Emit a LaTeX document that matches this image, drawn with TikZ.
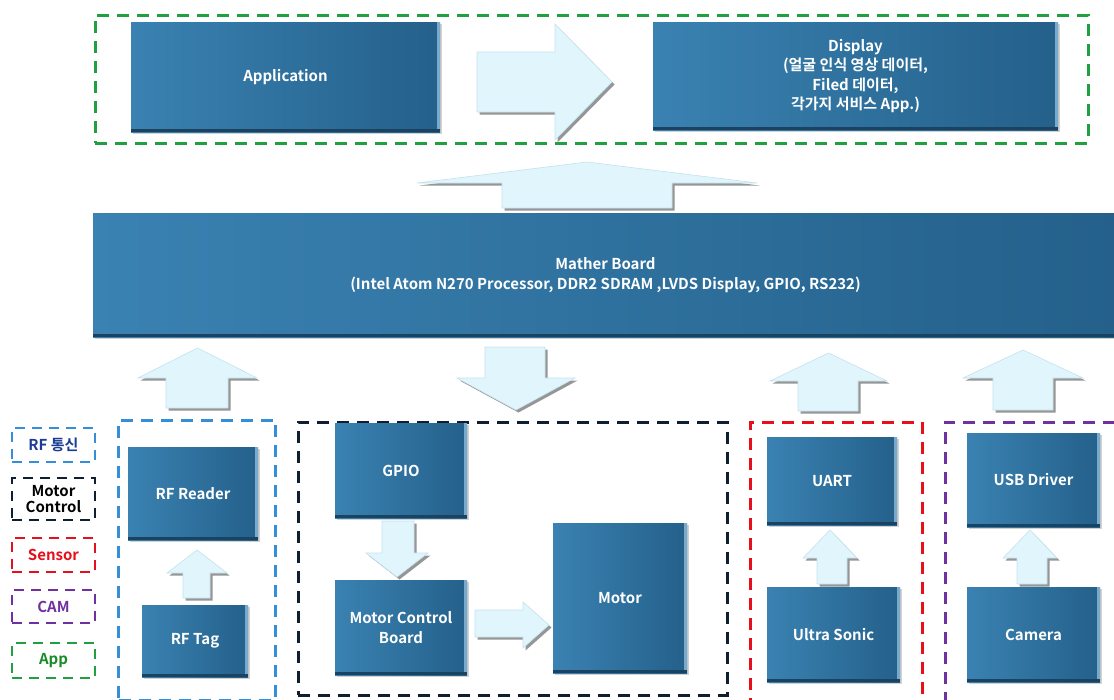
\documentclass[tikz,border=0pt]{standalone}
\usepackage{fontspec}
\setmainfont{Noto Sans CJK KR}[BoldFont={Noto Sans CJK KR Bold}]
\usetikzlibrary{shadows}
\definecolor{boxL}{RGB}{58,130,178}
\definecolor{boxR}{RGB}{36,96,138}
\definecolor{bevel}{RGB}{120,170,205}
\definecolor{arrF}{RGB}{224,246,252}
\definecolor{arrE}{RGB}{196,226,238}
\definecolor{arrS}{RGB}{150,150,150}
\definecolor{cGreen}{RGB}{32,160,64}
\definecolor{cNavy}{RGB}{16,30,50}
\definecolor{cRed}{RGB}{230,16,28}
\definecolor{cPurple}{RGB}{112,48,160}
\definecolor{cBlue}{RGB}{52,142,216}
\definecolor{tNavy}{RGB}{28,60,148}
\definecolor{tGreen}{RGB}{26,138,42}
\tikzset{
  blk/.style={left color=boxL, right color=boxR, text=white, align=center,
    inner sep=0pt, font=\fontsize{15}{19.5}\selectfont\bfseries,
    drop shadow={opacity=0.35, shadow xshift=2pt, shadow yshift=-2pt},
    path picture={
      \fill[bevel] (path picture bounding box.north east) rectangle ([xshift=-3pt]path picture bounding box.south east);
      \fill[boxR!70!black] (path picture bounding box.south west) rectangle ([yshift=3pt]path picture bounding box.south east);
    }},
  grp/.style={draw, line width=3pt, dash pattern=on 12pt off 8pt, inner sep=0pt},
  leg/.style={draw, line width=2.5pt, dash pattern=on 10pt off 7pt, inner sep=0pt,
    minimum width=83pt, align=center, font=\fontsize{15}{17}\selectfont\bfseries},
  arrfill/.style={fill=arrF, draw=arrE, line width=0.6pt},
  arrshadow/.style={fill=arrS},
}
% up block arrow: #1 wing left, #2 wing right, #3 shaft left, #4 shaft right, #5 tip y, #6 wing y, #7 bottom y
\newcommand\UpBlk[7]{%
  \path[arrshadow,shift={(2.5,2.5)}] (#3,#7) -- (#3,#6) -- (#1,#6) -- ({(#1+#2)/2},#5) -- (#2,#6) -- (#4,#6) -- (#4,#7) -- cycle;
  \path[arrfill] (#3,#7) -- (#3,#6) -- (#1,#6) -- ({(#1+#2)/2},#5) -- (#2,#6) -- (#4,#6) -- (#4,#7) -- cycle;}
% down block arrow: #1 wing left, #2 wing right, #3 shaft left, #4 shaft right, #5 tip y, #6 wing y, #7 top y
\newcommand\DownBlk[7]{%
  \path[arrshadow,shift={(2.5,2.5)}] (#3,#7) -- (#3,#6) -- (#1,#6) -- ({(#1+#2)/2},#5) -- (#2,#6) -- (#4,#6) -- (#4,#7) -- cycle;
  \path[arrfill] (#3,#7) -- (#3,#6) -- (#1,#6) -- ({(#1+#2)/2},#5) -- (#2,#6) -- (#4,#6) -- (#4,#7) -- cycle;}
% right block arrow: #1 shaft left x, #2 head x, #3 tip x, #4 head top, #5 head bottom, #6 shaft top, #7 shaft bottom
\newcommand\RightBlk[7]{%
  \path[arrshadow,shift={(2.5,2.5)}] (#1,#6) -- (#2,#6) -- (#2,#4) -- (#3,{(#4+#5)/2}) -- (#2,#5) -- (#2,#7) -- (#1,#7) -- cycle;
  \path[arrfill] (#1,#6) -- (#2,#6) -- (#2,#4) -- (#3,{(#4+#5)/2}) -- (#2,#5) -- (#2,#7) -- (#1,#7) -- cycle;}
\begin{document}
\begin{tikzpicture}[x=1pt,y=-1pt]
\useasboundingbox[fill=white] (0,0) rectangle (1114,699);
% groups
\node[grp, draw=cGreen, minimum width=993pt, minimum height=128pt] (gApp) at (591.5,79) {};
\node[grp, draw=cBlue, minimum width=157pt, minimum height=280pt] (gRF) at (197,560) {};
\node[grp, draw=cNavy, minimum width=429pt, minimum height=273pt] (gMot) at (512.5,558.5) {};
\node[grp, draw=cRed, minimum width=172pt, minimum height=280pt] (gSen) at (836,562) {};
\node[grp, draw=cPurple, minimum width=185pt, minimum height=280pt] (gCam) at (1037.5,562) {};
% legend
\node[leg, draw=cBlue, text=tNavy, minimum height=34pt] (lRF) at (53.5,445) {RF 통신};
\node[leg, draw=cNavy, text=black, minimum height=42pt] (lMot) at (53.5,499) {Motor\\[-1pt]Control};
\node[leg, draw=cRed, text=cRed, minimum height=34pt] (lSen) at (53.5,555) {Sensor};
\node[leg, draw=cPurple, text=cPurple, minimum height=33pt] (lCam) at (53.5,606.5) {CAM};
\node[leg, draw=cGreen, text=tGreen, minimum height=35pt] (lApp) at (53.5,660.5) {App};
% arrows
\RightBlk{477}{555}{612}{24}{140}{52}{112}
\UpBlk{417}{757}{502}{672}{162}{183}{208}
\UpBlk{138}{257}{166}{228}{348}{378}{408}
\DownBlk{457}{575}{485}{545}{410}{378}{347}
\UpBlk{770}{887}{798}{858}{353}{381}{411}
\UpBlk{963}{1083}{993}{1053}{350}{378}{410}
\UpBlk{167}{227}{183}{210}{550}{573}{598}
\DownBlk{366}{428}{382}{414}{577}{553}{521}
\RightBlk{475}{523}{549}{602}{648}{610}{637}
\UpBlk{803}{857}{817}{847}{530}{558}{584}
\UpBlk{1003}{1057}{1017}{1047}{530}{558}{584}
% boxes
\node[blk, minimum width=309pt, minimum height=110pt] (app) at (285.5,77) {Application};
\node[blk, minimum width=405pt, minimum height=108pt] (disp) at (855.5,76) {Display\\(얼굴 인식 영상 데이터,\\Filed 데이터,\\각가지 서비스 App.)};
\node[blk, minimum width=1025pt, minimum height=124pt] (mb) at (605.5,275) {Mather Board\\(Intel Atom N270 Processor, DDR2 SDRAM ,LVDS Display, GPIO, RS232)};
\node[blk, minimum width=130pt, minimum height=93pt] (rfr) at (193,493.5) {RF Reader};
\node[blk, minimum width=106pt, minimum height=72pt] (rft) at (195,641) {RF Tag};
\node[blk, minimum width=132pt, minimum height=95pt] (gpio) at (401,470.5) {GPIO};
\node[blk, minimum width=132pt, minimum height=95pt] (mcb) at (401,627.5) {Motor Control\\Board};
\node[blk, minimum width=134pt, minimum height=150pt] (motor) at (620,598) {Motor};
\node[blk, minimum width=130pt, minimum height=88pt] (uart) at (832,481) {UART};
\node[blk, minimum width=133pt, minimum height=95pt] (us) at (833.5,634.5) {Ultra Sonic};
\node[blk, minimum width=133pt, minimum height=94pt] (usb) at (1033.5,480) {USB Driver};
\node[blk, minimum width=133pt, minimum height=95pt] (cam) at (1033.5,634.5) {Camera};
\end{tikzpicture}
\end{document}
